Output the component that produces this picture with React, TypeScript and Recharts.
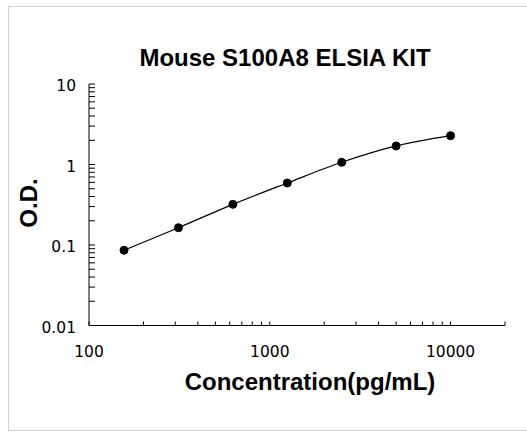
import { LineChart, Line, XAxis, YAxis } from "recharts";

const concentration = [156.25, 312.5, 625, 1250, 2500, 5000, 10000];
const od = [0.086, 0.164, 0.32, 0.589, 1.065, 1.7, 2.28];

const xTicks = [
  100, 200, 300, 400, 500, 600, 700, 800, 900,
  1000, 2000, 3000, 4000, 5000, 6000, 7000, 8000, 9000,
  10000, 20000,
];
const xLabels = [100, 1000, 10000];

const yTicks = [
  0.01, 0.02, 0.03, 0.04, 0.05, 0.06, 0.07, 0.08, 0.09,
  0.1, 0.2, 0.3, 0.4, 0.5, 0.6, 0.7, 0.8, 0.9,
  1, 2, 3, 4, 5, 6, 7, 8, 9, 10,
];
const yLabels = [0.01, 0.1, 1, 10];

const data = concentration.map((c, i) => ({ conc: c, od: od[i] }));

const boldFont = "'Liberation Sans', Arial, sans-serif";
const tickFont = "'DejaVu Sans', Verdana, sans-serif";

function XTick(props: any) {
  const { x, y, payload } = props;
  const v = payload.value;
  return (
    <g>
      <line x1={x} x2={x} y1={y} y2={y - 4} stroke="#000" />
      {xLabels.includes(v) && (
        <text
          x={x}
          y={y + 31}
          textAnchor="middle"
          fontFamily={tickFont}
          fontSize={15.5}
          fill="#000"
        >
          {v}
        </text>
      )}
    </g>
  );
}

function YTick(props: any) {
  const { x, y, payload } = props;
  const v = payload.value;
  return (
    <g>
      <line x1={x} x2={x + 6} y1={y} y2={y} stroke="#000" />
      {yLabels.includes(v) && (
        <text
          x={x - 13}
          y={y + 7}
          textAnchor="end"
          fontFamily={tickFont}
          fontSize={15.5}
          fill="#000"
        >
          {v}
        </text>
      )}
    </g>
  );
}

export default function App() {
  return (
    <div
      style={{
        position: "absolute",
        left: 0,
        top: 0,
        width: 527,
        height: 434,
        background: "#fff",
      }}
    >
      <div
        style={{
          position: "absolute",
          left: 8,
          top: 6,
          width: 519,
          height: 423,
          borderLeft: "1px solid #d0d0d0",
          borderTop: "1px solid #d0d0d0",
          borderBottom: "1px solid #d0d0d0",
        }}
      />
      <div style={{ position: "absolute", left: 0, top: 0 }}>
        <LineChart
          width={527}
          height={434}
          data={data}
          margin={{ top: 84, right: 22, bottom: 0, left: 0 }}
        >
          <XAxis
            dataKey="conc"
            type="number"
            scale="log"
            domain={[100, 20000]}
            ticks={xTicks}
            interval={0}
            allowDataOverflow
            height={108.5}
            tickSize={0}
            tickMargin={0}
            tickLine={false}
            axisLine={{ stroke: "#000" }}
            tick={<XTick />}
          />
          <YAxis
            dataKey="od"
            type="number"
            scale="log"
            domain={[0.01, 10]}
            ticks={yTicks}
            interval={0}
            allowDataOverflow
            width={89}
            tickSize={0}
            tickMargin={0}
            tickLine={false}
            axisLine={{ stroke: "#000" }}
            tick={<YTick />}
          />
          <Line
            type="monotone"
            dataKey="od"
            stroke="#000"
            strokeWidth={1.2}
            dot={{ r: 4, fill: "#000", stroke: "#000", strokeWidth: 1 }}
            isAnimationActive={false}
          />
        </LineChart>
      </div>
      <svg
        width={527}
        height={434}
        style={{ position: "absolute", left: 0, top: 0, pointerEvents: "none" }}
      >
        <text
          x={285}
          y={66}
          textAnchor="middle"
          fontFamily={boldFont}
          fontWeight="bold"
          fontSize={24}
          fill="#000"
        >
          Mouse S100A8 ELSIA KIT
        </text>
        <text
          x={310}
          y={390}
          textAnchor="middle"
          fontFamily={boldFont}
          fontWeight="bold"
          fontSize={24}
          fill="#000"
        >
          Concentration(pg/mL)
        </text>
        <text
          x={37}
          y={203}
          transform="rotate(-90, 37, 203)"
          textAnchor="middle"
          fontFamily={boldFont}
          fontWeight="bold"
          fontSize={24}
          fill="#000"
        >
          O.D.
        </text>
      </svg>
    </div>
  );
}
